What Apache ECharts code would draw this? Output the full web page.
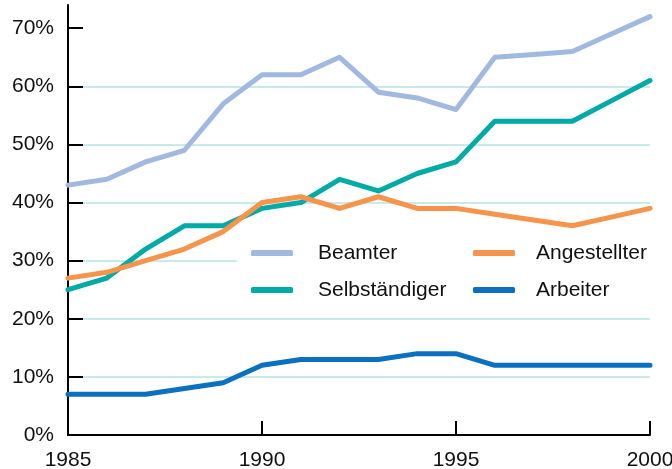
<!DOCTYPE html>
<html>
<head>
<meta charset="utf-8">
<script src="https://cdn.jsdelivr.net/npm/echarts@6/dist/echarts.min.js"></script>
<style>
  html, body { margin: 0; padding: 0; background: #fff; }
  #chart { width: 672px; height: 469px; }
</style>
</head>
<body>
<div id="chart"></div>
<script>
const years = [1985, 1986, 1987, 1988, 1989, 1990, 1991, 1992, 1993, 1994, 1995, 1996, 1997, 1998, 1999, 2000];
const beamter = [43, 44, 47, 49, 57, 62, 62, 65, 59, 58, 56, 65, 65.5, 66, 69, 72];
const selbstaendiger = [25, 27, 32, 36, 36, 39, 40, 44, 42, 45, 47, 54, 54, 54, 57.5, 61];
const angestellter = [27, 28, 30, 32, 35, 40, 41, 39, 41, 39, 39, 38, 37, 36, 37.5, 39];
const arbeiter = [7, 7, 7, 8, 9, 12, 13, 13, 13, 14, 14, 12, 12, 12, 12, 12];
const yTicks = [0, 10, 20, 30, 40, 50, 60, 70];
const xTicks = [1985, 1990, 1995, 2000];

const font = '"Liberation Sans", Arial, sans-serif';
const chart = echarts.init(document.getElementById('chart'), null, { renderer: 'canvas' });

function pairs(vals) {
  return years.map((y, i) => [y, vals[i]]);
}

function lineSeries(name, vals, color) {
  return {
    name: name,
    type: 'line',
    data: pairs(vals),
    symbol: 'none',
    smooth: false,
    lineStyle: { color: color, width: 5, join: 'round', cap: 'round' },
    itemStyle: { color: color }
  };
}

const legendText = { fontFamily: font, fontSize: 21, color: '#111', lineHeight: 22 };

const option = {
  animation: false,
  backgroundColor: '#fff',
  grid: { left: 68, right: 22, top: 5, bottom: 34, containLabel: false, outerBoundsMode: 'none' },
  xAxis: {
    type: 'value',
    min: 1985,
    max: 2000,
    interval: 5,
    axisLine: { lineStyle: { color: '#000', width: 2 } },
    axisTick: { inside: true, length: 14, lineStyle: { color: '#000', width: 2 } },
    axisLabel: { margin: 15, fontFamily: font, fontSize: 21, color: '#111', formatter: v => String(v), customValues: xTicks },
    splitLine: { show: false }
  },
  yAxis: {
    type: 'value',
    min: 0,
    max: 74,
    interval: 10,
    axisLine: { show: true, lineStyle: { color: '#000', width: 2 } },
    axisTick: { show: true, inside: true, length: 15, lineStyle: { color: '#000', width: 2 }, customValues: yTicks },
    axisLabel: { margin: 14, fontFamily: font, fontSize: 21, color: '#111', formatter: v => v + '%', customValues: yTicks },
    splitLine: { show: true, showMinLine: false, showMaxLine: false, lineStyle: { color: '#c9eaea', width: 2 } }
  },
  legend: [
    {
      data: ['Beamter', 'Selbständiger'],
      orient: 'vertical',
      left: 237,
      top: 228,
      padding: [14, 25, 10, 14],
      itemGap: 15,
      itemWidth: 42,
      itemHeight: 6,
      icon: 'roundRect',
      backgroundColor: '#fff',
      textStyle: Object.assign({ padding: [0, 0, 0, 20] }, legendText)
    },
    {
      data: ['Angestellter', 'Arbeiter'],
      orient: 'vertical',
      left: 458,
      top: 228,
      padding: [14, 25, 10, 15],
      itemGap: 15,
      itemWidth: 42,
      itemHeight: 6,
      icon: 'roundRect',
      backgroundColor: '#fff',
      textStyle: Object.assign({ padding: [0, 0, 0, 16] }, legendText)
    }
  ],
  series: [
    lineSeries('Beamter', beamter, '#a1b8e1'),
    lineSeries('Selbständiger', selbstaendiger, '#00aaa6'),
    lineSeries('Angestellter', angestellter, '#f7944b'),
    lineSeries('Arbeiter', arbeiter, '#0b70c0')
  ]
};

chart.setOption(option);
</script>
</body>
</html>
